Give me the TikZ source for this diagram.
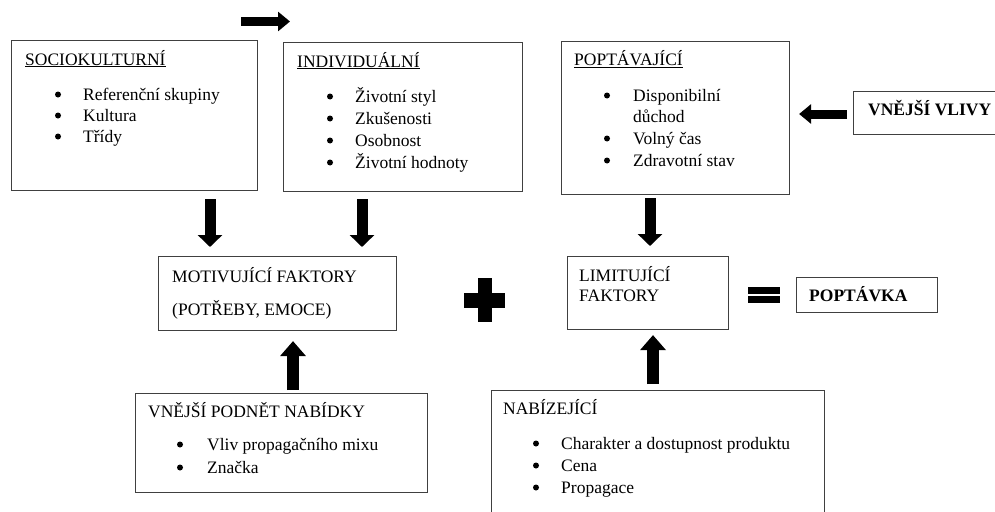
\documentclass[tikz,border=0pt]{standalone}
\usepackage{fontspec}
\setmainfont{Liberation Serif}
\usetikzlibrary{arrows.meta}
\tikzset{
  box/.style={draw=black!75, line width=1.1pt, rectangle, inner sep=0pt, anchor=north west},
  txt/.style={anchor=base west, inner sep=0pt, font=\fontsize{17.5}{21}\selectfont},
  boldtxt/.style={txt, font=\fontsize{17.5}{21}\selectfont\bfseries},
  bul/.style={circle, fill=black, inner sep=0pt, minimum size=6pt, yshift=5.5pt},
  vertarrow/.style={line width=11pt, -{Triangle[width=24pt,length=12pt]}},
  uparrow/.style={line width=12pt, -{Triangle[width=25pt,length=15pt]}},
  sidearrow/.style={line width=9pt, -{Triangle[width=19pt,length=12pt]}},
  symb/.style={fill=black}
}
\begin{document}
\begin{tikzpicture}[x=1pt,y=-1pt]
\useasboundingbox (0,0) rectangle (995,511);
\clip (0,0) rectangle (995,511);

% boxes
\node[box, minimum width=246pt, minimum height=150pt] (soc) at (11,40) {};
\node[box, minimum width=239pt, minimum height=149pt] (ind) at (283,42) {};
\node[box, minimum width=228pt, minimum height=153pt] (popt) at (561,41) {};
\node[box, minimum width=160pt, minimum height=43pt] (vlivy) at (853,91) {};
\node[box, minimum width=238pt, minimum height=74pt] (motiv) at (158,256) {};
\node[box, minimum width=161pt, minimum height=73pt] (limit) at (567,256) {};
\node[box, minimum width=141pt, minimum height=35pt] (poptavka) at (796,277) {};
\node[box, minimum width=292pt, minimum height=99pt] (podnet) at (135,393) {};
\node[box, minimum width=333pt, minimum height=140pt] (nabiz) at (491,390) {};

% texts
\node[txt] (socT) at (25,65) {\underline{SOCIOKULTURNÍ}};
\foreach \t/\yy [count=\i] in {Referenční skupiny/100, Kultura/121, Třídy/142}{
  \node[bul] (socB\i) at (58,\yy) {};
  \node[txt] (socI\i) at (83,\yy) {\t};
}
\node[txt] (indT) at (297,67) {\underline{INDIVIDUÁLNÍ}};
\foreach \t/\yy [count=\i] in {Životní styl/102, Zkušenosti/124, Osobnost/146, Životní hodnoty/168}{
  \node[bul] (indB\i) at (330,\yy) {};
  \node[txt] (indI\i) at (355,\yy) {\t};
}
\node[txt] (poptT) at (574,66) {\underline{POPTÁVAJÍCÍ}};
\node[bul] (poptB1) at (607,101) {};
\node[txt] (poptI1) at (633,101) {Disponibilní};
\node[txt] (poptI1b) at (633,122) {důchod};
\node[bul] (poptB2) at (607,144) {};
\node[txt] (poptI2) at (633,144) {Volný čas};
\node[bul] (poptB3) at (607,166) {};
\node[txt] (poptI3) at (633,166) {Zdravotní stav};

\node[boldtxt] (vlivyT) at (868,115) {VNĚJŠÍ VLIVY};

\node[txt] (motivT1) at (172,282) {MOTIVUJÍCÍ FAKTORY};
\node[txt] (motivT2) at (172,315) {(POTŘEBY, EMOCE)};

\node[txt] (limitT1) at (579,281) {LIMITUJÍCÍ};
\node[txt] (limitT2) at (579,301) {FAKTORY};

\node[boldtxt] (poptavkaT) at (809,301) {POPTÁVKA};

\node[txt] (podnetT) at (148,417) {VNĚJŠÍ PODNĚT NABÍDKY};
\foreach \t/\yy [count=\i] in {Vliv propagačního mixu/450, Značka/473}{
  \node[bul] (podB\i) at (180,\yy) {};
  \node[txt] (podI\i) at (207,\yy) {\t};
}
\node[txt] (nabizT) at (503,414) {NABÍZEJÍCÍ};
\foreach \t/\yy [count=\i] in {Charakter a dostupnost produktu/449, Cena/471, Propagace/493}{
  \node[bul] (nabB\i) at (536,\yy) {};
  \node[txt] (nabI\i) at (561,\yy) {\t};
}

% arrows
\coordinate (ax1) at (210,0);
\coordinate (ax2) at (362,0);
\coordinate (ax3) at (650,0);
\coordinate (ax4) at (293,0);
\coordinate (ax5) at (653,0);
\coordinate (ay6) at (0,114);
\coordinate (t1) at (241,21.5);
\coordinate (t2) at (290,21.5);

\draw[vertarrow, shorten <=8pt, shorten >=9pt] (soc.south -| ax1) -- (motiv.north -| ax1);
\draw[vertarrow, shorten <=7pt, shorten >=9pt] (ind.south -| ax2) -- (motiv.north -| ax2);
\draw[vertarrow, shorten <=3pt, shorten >=10pt] (popt.south -| ax3) -- (limit.north -| ax3);
\draw[uparrow, shorten <=3pt, shorten >=10pt] (podnet.north -| ax4) -- (motiv.south -| ax4);
\draw[uparrow, shorten <=6pt, shorten >=5pt] (nabiz.north -| ax5) -- (limit.south -| ax5);
\draw[sidearrow, shorten <=6pt, shorten >=9pt] (vlivy.west |- ay6) -- (popt.east |- ay6);
\draw[sidearrow] (t1) -- (t2);

% plus and equals
\fill[symb] (464,292.5) rectangle (505,307.5);
\fill[symb] (478,278) rectangle (492,322);
\fill[symb] (748,287) rectangle (780,294);
\fill[symb] (748,296) rectangle (780,303);
\end{tikzpicture}
\end{document}
